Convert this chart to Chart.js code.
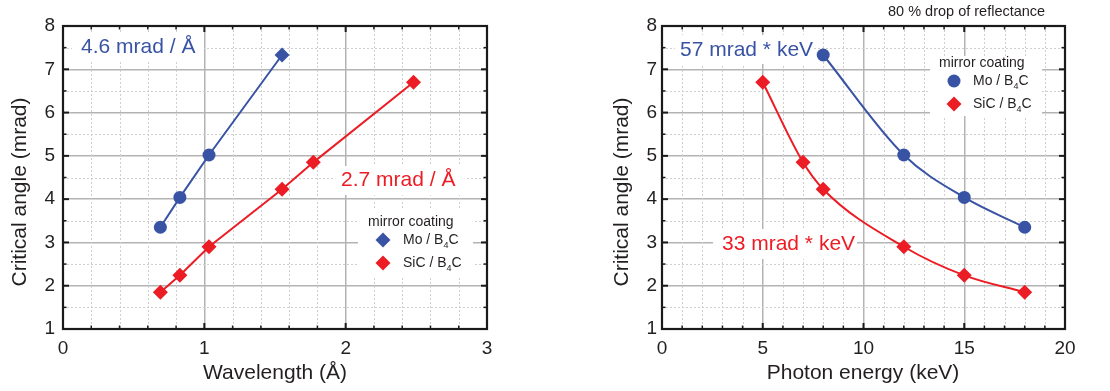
<!DOCTYPE html>
<html>
<head>
<meta charset="utf-8">
<script src="https://cdn.jsdelivr.net/npm/chart.js@4/dist/chart.umd.min.js"></script>
<style>
  html, body { margin: 0; padding: 0; background: #ffffff; }
  body { width: 1110px; height: 391px; position: relative; overflow: hidden; }
  canvas { position: absolute; top: 0; }
</style>
</head>
<body>
<canvas id="cLeft" width="555" height="391" style="left:0px"></canvas>
<canvas id="cRight" width="555" height="391" style="left:555px"></canvas>
<script>
// ---------------- data ----------------
const energyMo      = [8, 12, 15, 18];                       // keV
const wavelengthMo  = [1.550, 1.033, 0.827, 0.689];          // Å
const angleMo       = [7.33, 5.02, 4.04, 3.35];              // mrad
const markerMoLeft  = ['rectRot', 'circle', 'circle', 'circle'];

const energySiC     = [5, 7, 8, 12, 15, 18];                 // keV
const wavelengthSiC = [2.480, 1.771, 1.550, 1.033, 0.827, 0.689];
const angleSiC      = [6.70, 4.85, 4.23, 2.90, 2.24, 1.85];

const yRange = [1, 8];
const wavelengthRange = [0, 3];
const energyRange = [0, 20];

const seriesLabels = ['Mo / B4C', 'SiC / B4C'];
const legendTitle = 'mirror coating';

// ---------------- styles ----------------
const BLUE = '#3953a4';
const RED = '#ec1c24';
const TXT = '#231f20';
const FONT = '"Liberation Sans", Arial, Helvetica, sans-serif';

function pts(xs, ys) { return xs.map((v, i) => ({ x: v, y: ys[i] })); }

function line(ctx, x1, y1, x2, y2) { ctx.beginPath(); ctx.moveTo(x1, y1); ctx.lineTo(x2, y2); ctx.stroke(); }

function marker(ctx, style, x, y, color) {
  ctx.fillStyle = color;
  ctx.beginPath();
  if (style === 'circle') { ctx.arc(x, y, 6.5, 0, Math.PI * 2); }
  else { const r = 7.5; ctx.moveTo(x - r, y); ctx.lineTo(x, y - r); ctx.lineTo(x + r, y); ctx.lineTo(x, y + r); ctx.closePath(); }
  ctx.fill();
}

function subText(ctx, x, y, label, color) {
  // draws "XX / B4C" with subscript 4
  const m = label.match(/^(.*B)(\d)(C)$/);
  ctx.fillStyle = color;
  ctx.textBaseline = 'middle';
  ctx.textAlign = 'left';
  ctx.font = '14px ' + FONT;
  if (!m) { ctx.fillText(label, x, y); return; }
  ctx.fillText(m[1], x, y);
  let w = ctx.measureText(m[1]).width;
  ctx.font = '9px ' + FONT;
  ctx.fillText(m[2], x + w, y + 6);
  w += ctx.measureText(m[2]).width;
  ctx.font = '14px ' + FONT;
  ctx.fillText(m[3], x + w, y);
}

function decoPlugin(cfg) {
  return {
    id: 'deco' + cfg.name,
    beforeDatasetsDraw(chart) {
      const { ctx, chartArea: a, scales: { x, y } } = chart;
      ctx.save();
      // minor grid (dotted)
      ctx.strokeStyle = '#cfcfcf';
      ctx.lineWidth = 1;
      ctx.setLineDash([2, 2]);
      for (let v = x.min + cfg.xMinor; v < x.max - 1e-9; v += cfg.xMinor) {
        if (Math.abs(v / cfg.xMajor - Math.round(v / cfg.xMajor)) < 1e-6) continue;
        const px = Math.round(x.getPixelForValue(v)) + 0.5;
        line(ctx, px, a.top, px, a.bottom);
      }
      for (let v = y.min + 0.5; v < y.max - 1e-9; v += 1) {
        const py = Math.round(y.getPixelForValue(v)) + 0.5;
        line(ctx, a.left, py, a.right, py);
      }
      ctx.setLineDash([]);
      // white boxes behind annotations / legend
      ctx.fillStyle = '#ffffff';
      for (const b of cfg.boxes) ctx.fillRect(b[0], b[1], b[2] - b[0], b[3] - b[1]);
      // annotations
      ctx.textBaseline = 'middle';
      ctx.textAlign = 'left';
      for (const t of cfg.notes) {
        ctx.font = t.size + 'px ' + FONT;
        ctx.fillStyle = t.color;
        ctx.fillText(t.text, t.x, t.y);
      }
      // legend
      const L = cfg.legend;
      ctx.font = '14px ' + FONT;
      ctx.fillStyle = TXT;
      ctx.fillText(legendTitle, L.x, L.y0);
      marker(ctx, L.moStyle, L.mx, L.y1, BLUE);
      subText(ctx, L.tx, L.y1, seriesLabels[0], TXT);
      marker(ctx, 'rectRot', L.mx, L.y2, RED);
      subText(ctx, L.tx, L.y2, seriesLabels[1], TXT);
      // axis titles
      ctx.fillStyle = TXT;
      ctx.font = '21px ' + FONT;
      ctx.textAlign = 'center';
      ctx.fillText(cfg.xTitle, cfg.xTitlePos[0], cfg.xTitlePos[1]);
      ctx.save();
      ctx.translate(cfg.yTitlePos[0], cfg.yTitlePos[1]);
      ctx.rotate(-Math.PI / 2);
      ctx.fillText(cfg.yTitle, 0, 0);
      ctx.restore();
      if (cfg.topNote) {
        ctx.font = '14.5px ' + FONT;
        ctx.textAlign = 'left';
        ctx.fillText(cfg.topNote.text, cfg.topNote.x, cfg.topNote.y);
      }
      ctx.restore();
    },
    afterDraw(chart) {
      const { ctx, chartArea: a, scales: { x, y } } = chart;
      ctx.save();
      ctx.strokeStyle = '#1a1a1a';
      // ticks pointing inward
      const xTick = (v, len, w) => {
        const px = x.getPixelForValue(v);
        ctx.lineWidth = w;
        line(ctx, px, a.bottom, px, a.bottom - len);
        line(ctx, px, a.top, px, a.top + len);
      };
      const yTick = (v, len, w) => {
        const py = y.getPixelForValue(v);
        ctx.lineWidth = w;
        line(ctx, a.left, py, a.left + len, py);
        line(ctx, a.right, py, a.right - len, py);
      };
      for (let v = x.min; v <= x.max + 1e-9; v += cfg.xMinor) {
        const major = Math.abs(v / cfg.xMajor - Math.round(v / cfg.xMajor)) < 1e-6;
        xTick(v, major ? 6 : 3.5, major ? 2 : 1.5);
      }
      for (let v = y.min; v <= y.max + 1e-9; v += 0.5) {
        const major = Math.abs(v - Math.round(v)) < 1e-6;
        yTick(v, major ? 6 : 3.5, major ? 2 : 1.5);
      }
      // frame
      ctx.lineWidth = 2.2;
      ctx.strokeRect(a.left, a.top, a.right - a.left, a.bottom - a.top);
      ctx.restore();
    }
  };
}

function axisOpts(range, step, pad) {
  return {
    type: 'linear',
    min: range[0], max: range[1],
    ticks: { stepSize: step, padding: pad, color: TXT, font: { family: FONT, size: 19 } },
    grid: { color: '#b3b3b3', lineWidth: 1.5, drawTicks: false },
    border: { display: false }
  };
}

function makeChart(id, cfg) {
  const xo = axisOpts(cfg.xRange, cfg.xMajor, 8);
  xo.afterFit = s => { s.height = 62; };
  const yo = axisOpts(yRange, 1, cfg.yPad);
  yo.afterFit = s => { s.width = cfg.yWidth; };
  return new Chart(document.getElementById(id), {
    type: 'scatter',
    data: {
      datasets: [
        {
          label: seriesLabels[1],
          data: cfg.red,
          showLine: true,
          borderColor: RED, backgroundColor: RED,
          pointBackgroundColor: RED, pointBorderColor: RED,
          borderWidth: 2, pointBorderWidth: 0,
          pointStyle: 'rectRot', pointRadius: 7.5,
          cubicInterpolationMode: cfg.smooth ? 'monotone' : 'default',
          tension: 0
        },
        {
          label: seriesLabels[0],
          data: cfg.blue,
          showLine: true,
          borderColor: BLUE, backgroundColor: BLUE,
          pointBackgroundColor: BLUE, pointBorderColor: BLUE,
          borderWidth: 2, pointBorderWidth: 0,
          pointStyle: cfg.blueStyles,
          pointRadius: cfg.blueStyles.map(s => s === 'circle' ? 6.5 : 7.5),
          cubicInterpolationMode: cfg.smooth ? 'monotone' : 'default',
          tension: 0
        }
      ]
    },
    options: {
      responsive: false,
      animation: false,
      devicePixelRatio: 1,
      layout: { padding: { left: 0, top: 26, right: cfg.padRight, bottom: 0 } },
      plugins: { legend: { display: false }, tooltip: { enabled: false } },
      scales: { x: xo, y: yo }
    },
    plugins: [decoPlugin(cfg)]
  });
}

// Left panel: wavelength
makeChart('cLeft', {
  name: 'L',
  xRange: wavelengthRange, xMajor: 1, xMinor: 0.2,
  yWidth: 63, yPad: 8, padRight: 68,
  smooth: false,
  red: pts(wavelengthSiC, angleSiC),
  blue: pts(wavelengthMo, angleMo),
  blueStyles: markerMoLeft,
  boxes: [[72, 32, 204, 62], [333, 166, 466, 195], [358, 210, 473, 276]],
  notes: [
    { text: '4.6 mrad / Å', x: 81, y: 47, size: 21, color: BLUE },
    { text: '2.7 mrad / Å', x: 341, y: 180, size: 21, color: RED }
  ],
  legend: { x: 368, y0: 222, mx: 383, tx: 403, y1: 240, y2: 263, moStyle: 'rectRot' },
  xTitle: 'Wavelength (Å)', xTitlePos: [275, 373],
  yTitle: 'Critical angle (mrad)', yTitlePos: [20, 192]
});

// Right panel: photon energy (canvas offset 555 px)
makeChart('cRight', {
  name: 'R',
  xRange: energyRange, xMajor: 5, xMinor: 1,
  yWidth: 107, yPad: 5, padRight: 45,
  smooth: true,
  red: pts(energySiC, angleSiC),
  blue: pts(energyMo, angleMo),
  blueStyles: energyMo.map(() => 'circle'),
  boxes: [[675 - 555, 35, 812 - 555, 64], [713 - 555, 229, 857 - 555, 259], [930 - 555, 56, 1042 - 555, 116]],
  notes: [
    { text: '57 mrad * keV', x: 680 - 555, y: 50, size: 21, color: BLUE },
    { text: '33 mrad * keV', x: 722 - 555, y: 244, size: 21, color: RED }
  ],
  legend: { x: 939 - 555, y0: 63, mx: 954 - 555, tx: 973 - 555, y1: 81, y2: 104, moStyle: 'circle' },
  xTitle: 'Photon energy (keV)', xTitlePos: [863 - 555, 373],
  yTitle: 'Critical angle (mrad)', yTitlePos: [622 - 555, 192],
  topNote: { text: '80 % drop of reflectance', x: 888 - 555, y: 12 }
});
</script>
</body>
</html>
